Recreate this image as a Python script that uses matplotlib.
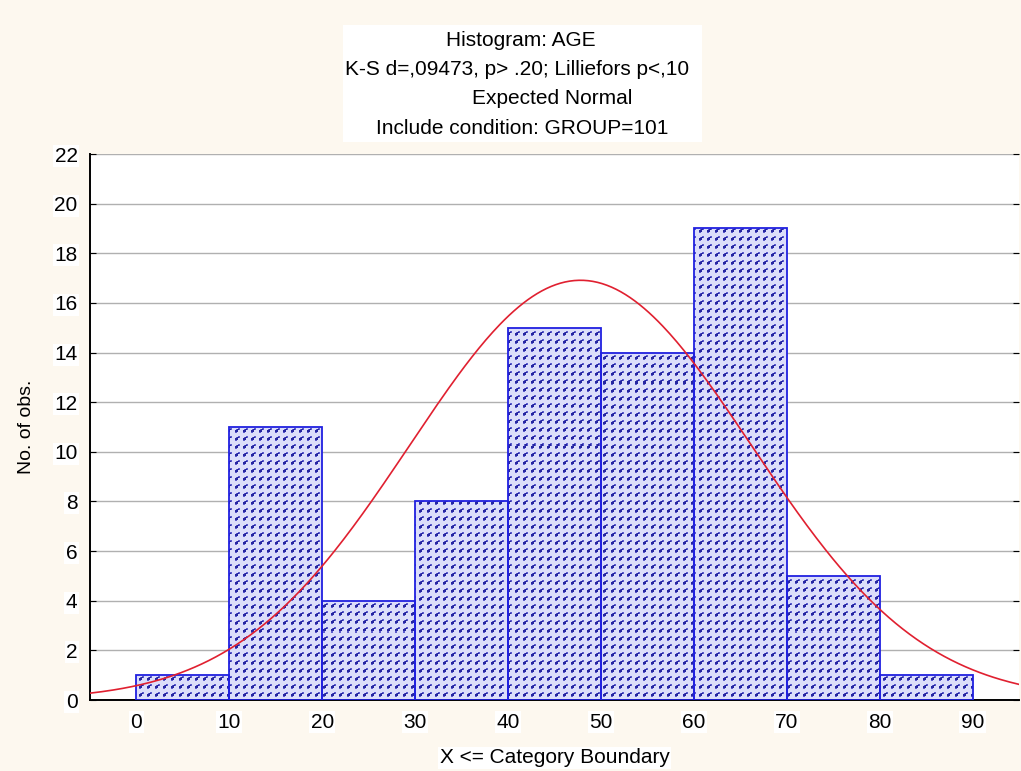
import numpy as np
import matplotlib.pyplot as plt
from matplotlib.colors import to_rgb

plt.rcParams['font.family'] = ['Liberation Sans', 'DejaVu Sans']

# histogram data (upper category boundaries, counts)
bin_left = [0, 10, 20, 30, 40, 50, 60, 70, 80]
counts = [1, 11, 4, 8, 15, 14, 19, 5, 1]
bin_width = 10
xticks = [0, 10, 20, 30, 40, 50, 60, 70, 80, 90]
yticks = [0, 2, 4, 6, 8, 10, 12, 14, 16, 18, 20, 22]

# expected normal parameters
mu = 47.8
sigma = 18.4

title_lines = ["Histogram: AGE",
               "K-S d=,09473, p> .20; Lilliefors p<,10",
               "Expected Normal",
               "Include condition: GROUP=101"]

W, H = 1021, 771
fig = plt.figure(figsize=(W / 100, H / 100), dpi=100, facecolor='#fdf8ef')
ax_px = (90, 71, 929, 546)
ax = fig.add_axes([ax_px[0] / W, ax_px[1] / H, ax_px[2] / W, ax_px[3] / H])
ax.set_facecolor('white')

# small dotted texture like the original fill pattern
bg = np.array(to_rgb('#dcdefa'))
dark = np.array(to_rgb('#2626a0'))
mid = np.array(to_rgb('#5a5acc'))
tile = np.tile(bg, (8, 8, 1))
for r, c in [(5, 1), (5, 2), (4, 2), (4, 3), (3, 3), (3, 4), (4, 1), (5, 3)]:
    tile[r, c] = dark
for r, c in [(6, 1), (6, 2), (2, 4), (2, 5), (3, 5), (3, 2)]:
    tile[r, c] = mid
tex = np.tile(tile, (ax_px[3] // 8 + 1, ax_px[2] // 8 + 1, 1))[:ax_px[3], :ax_px[2]]

bars = ax.bar(bin_left, counts, width=bin_width, align='edge',
              facecolor='none', edgecolor='#2020e0', linewidth=1.3, zorder=3)
for b in bars:
    im = ax.imshow(tex, extent=(-5, 95, 0, 22), aspect='auto',
                   interpolation='nearest', zorder=2)
    im.set_clip_path(b)

# expected normal curve
n = sum(counts)
xs = np.linspace(-5, 95, 400)
ys = n * bin_width / (sigma * np.sqrt(2 * np.pi)) * np.exp(-0.5 * ((xs - mu) / sigma) ** 2)
ax.plot(xs, ys, color='#e02030', linewidth=1.2, zorder=4)

ax.set_xlim(-5, 95)
ax.set_ylim(0, 22)
ax.set_xticks(xticks)
ax.set_yticks(yticks)
ax.tick_params(axis='both', labelsize=15, length=4, width=0.8, color='black',
               direction='in')
ax.tick_params(axis='x', pad=9, length=0)
ax.tick_params(axis='y', pad=9, right=True)
for lab in ax.get_xticklabels() + ax.get_yticklabels():
    lab.set_bbox(dict(facecolor='white', edgecolor='none', pad=1))
ax.yaxis.grid(True, color='#b0b0b0', linewidth=1.0, zorder=0)
ax.set_axisbelow(True)
for s in ['top', 'right']:
    ax.spines[s].set_visible(False)
ax.spines['left'].set_linewidth(1.4)
ax.spines['bottom'].set_linewidth(1.4)

ax.set_xlabel("X <= Category Boundary", fontsize=15, labelpad=12,
              bbox=dict(facecolor='white', edgecolor='none', pad=1))
ax.set_ylabel("No. of obs.", fontsize=14, labelpad=14)

# title block on a white box, lines centred slightly differently as in the original
fig.patches.append(plt.Rectangle((343 / W, 1 - 142 / H), 359 / W, 117 / H,
                                 transform=fig.transFigure, facecolor='white',
                                 edgecolor='none', zorder=0))
line_cx = [521, 517, 552, 522]
for i, line in enumerate(title_lines):
    fig.text(line_cx[i] / W, 1 - (40 + 29.5 * i) / H, line, ha='center', va='center',
             fontsize=15)

fig.savefig('out.png', dpi=100, facecolor=fig.get_facecolor())
